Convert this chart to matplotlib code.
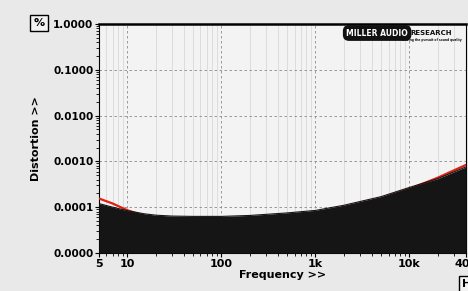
import matplotlib
matplotlib.use("Agg")
import matplotlib.pyplot as plt
import numpy as np
from matplotlib.ticker import NullFormatter, LogLocator

freq = [5, 7, 10, 15, 20, 30, 50, 100, 200, 500, 1000, 2000, 5000, 10000, 20000, 40000]
dist_black = [0.00012, 0.0001, 0.000084, 0.000072, 0.000067, 0.000064, 0.000063, 0.000063,
              0.000066, 0.000075, 0.000085, 0.00011, 0.00017, 0.00027, 0.00042, 0.00076]
dist_red = [0.000155, 0.00012, 0.000086, 0.000065, 0.00006, 0.000057, 0.000056, 0.000056,
            0.000059, 0.000068, 0.000077, 0.0001, 0.000155, 0.00025, 0.00044, 0.00084]
yticks = [0.00001, 0.0001, 0.001, 0.01, 0.1, 1.0]
ytick_labels = ["0.0000", "0.0001", "0.0010", "0.0100", "0.1000", "1.0000"]
xticks = [5, 10, 100, 1000, 10000, 40000]
xtick_labels = ["5", "10", "100", "1k", "10k", "40k"]

fig = plt.figure(figsize=(4.68, 2.91), dpi=100)
fig.patch.set_facecolor("#e9e9e9")
ax = fig.add_axes([99/468, 38/291, 367/468, 229/291])
ax.set_facecolor("#f3f3f3")
ax.set_xscale("log")
ax.set_yscale("log")
ax.set_xlim(5, 40000)
ax.set_ylim(0.00001, 1.0)

ax.plot(freq, dist_red, color="#e02010", lw=1.6, zorder=3)
ax.fill_between(freq, 0.00001, dist_black, color="#151515", zorder=4, lw=0)
ax.plot(freq, dist_black, color="#151515", lw=0.8, zorder=4)

ax.set_yticks(yticks)
ax.set_yticklabels(ytick_labels, fontsize=7.5, fontweight="bold")
ax.yaxis.set_minor_locator(LogLocator(base=10, subs=np.arange(2, 10)))
ax.yaxis.set_minor_formatter(NullFormatter())
ax.set_xticks(xticks)
ax.set_xticklabels(xtick_labels, fontsize=8, fontweight="bold")
ax.xaxis.set_minor_locator(LogLocator(base=10, subs=np.arange(2, 10)))
ax.xaxis.set_minor_formatter(NullFormatter())
ax.tick_params(axis="both", which="major", length=3, width=0.8, pad=1)
ax.tick_params(axis="both", which="minor", length=2, width=0.6)

ax.grid(True, which="major", color="#8a8a8a", ls=(0, (3, 3)), lw=0.6, zorder=1)
ax.grid(True, which="minor", axis="x", color="#d2d2d2", ls="-", lw=0.5, zorder=1)
for s in ax.spines.values():
    s.set_linewidth(0.8)
ax.spines["top"].set_linewidth(1.8)

ax.set_xlabel("Frequency >>", fontsize=8, fontweight="bold", labelpad=1)
ax.set_ylabel("Distortion >>", fontsize=8, fontweight="bold", labelpad=9)

fig.text(39/468, 1 - 23/291, "%", fontsize=8, fontweight="bold", ha="center", va="center",
         bbox=dict(boxstyle="square,pad=0.3", fc="#f3f3f3", ec="black", lw=1))
fig.text(462/468, 1 - 284/291, "Hz", fontsize=8, fontweight="bold", ha="left", va="center",
         bbox=dict(boxstyle="square,pad=0.25", fc="#f3f3f3", ec="black", lw=1))

fig.text(408/468, 1 - 33/291, "MILLER AUDIO", fontsize=5.5, fontweight="bold", color="white",
         ha="right", va="center",
         bbox=dict(boxstyle="round,pad=0.35,rounding_size=0.7", fc="#111111", ec="#111111"))
fig.text(410/468, 1 - 33/291, "RESEARCH", fontsize=5, fontweight="bold", color="#111111",
         ha="left", va="center")
fig.text(462/468, 1 - 40/291, "driving the pursuit of sound quality", fontsize=2.2,
         fontweight="bold", color="#111111", ha="right", va="center")

fig.savefig("out.png", dpi=100, facecolor=fig.get_facecolor())
